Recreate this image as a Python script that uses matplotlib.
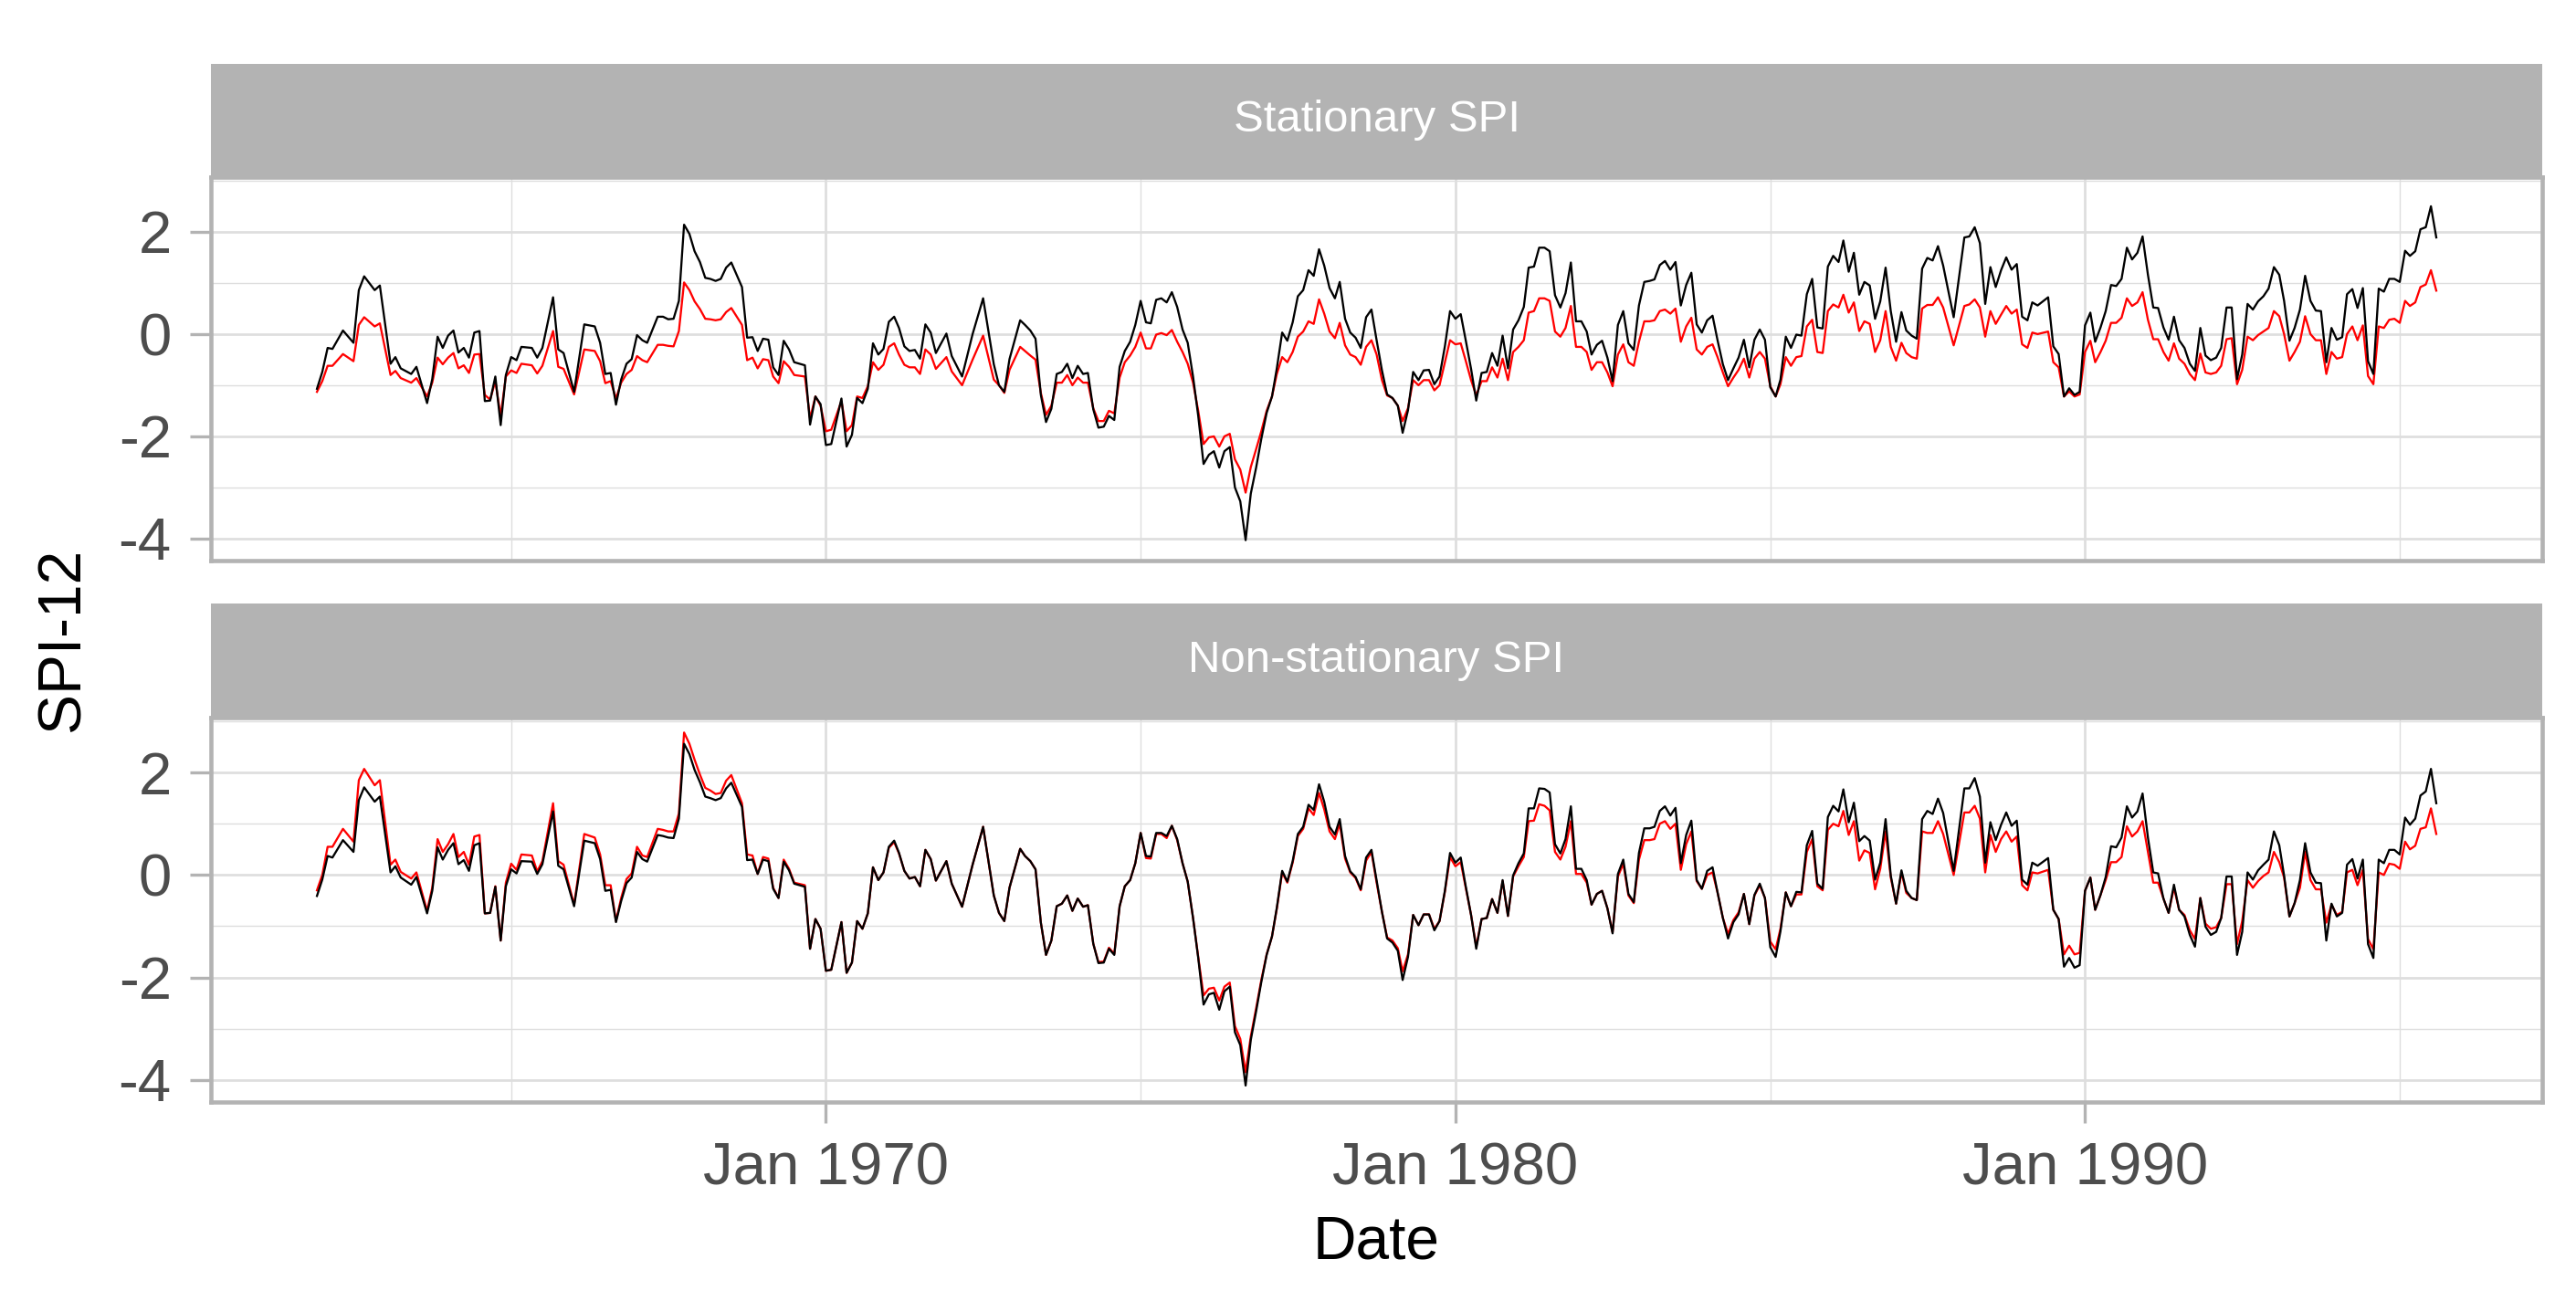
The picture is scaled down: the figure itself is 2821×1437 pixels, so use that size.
import matplotlib
matplotlib.use("Agg")
import matplotlib.pyplot as plt
import matplotlib.dates as mdates
from matplotlib.ticker import MultipleLocator
import pandas as pd

plt.rcParams['font.family'] = ['Liberation Sans', 'DejaVu Sans']
plt.rcParams['axes.unicode_minus'] = False

# months (vertices of the lines)
sample_months = {
    1961: [12],
    1962: [1, 2, 3, 5, 7, 8, 9, 11, 12],
    1963: [2, 3, 4, 6, 7, 9, 10, 11, 12],
    1964: [1, 2, 3, 4, 5, 6, 7, 8, 9, 10, 11, 12],
    1965: [1, 2, 3, 5, 6, 7, 9, 10, 11],
    1966: [1, 3, 5, 6, 7, 8, 9, 10, 11, 12],
    1967: [1, 2, 3, 5, 6, 7, 8, 9, 10, 11, 12],
    1968: [1, 2, 3, 4, 5, 6, 7, 9, 10, 11, 12],
    1969: [1, 2, 3, 4, 5, 6, 7, 9, 10, 11, 12],
    1970: [1, 2, 4, 5, 6, 7, 8, 9, 10, 11, 12],
    1971: [1, 2, 3, 4, 5, 6, 7, 8, 9, 10, 12],
    1972: [1, 3, 5, 7, 9, 10, 11, 12],
    1973: [2, 3, 4, 5, 6, 7, 8, 9, 10, 11, 12],
    1974: list(range(1, 13)),
    1975: list(range(1, 13)),
    1976: list(range(1, 13)),
    1977: list(range(1, 13)),
    1978: list(range(1, 13)),
    1979: list(range(1, 13)),
    1980: list(range(1, 13)),
    1981: list(range(1, 13)),
    1982: list(range(1, 13)),
    1983: list(range(1, 13)),
    1984: list(range(1, 13)),
    1985: list(range(1, 13)),
    1986: list(range(1, 13)),
    1987: [1, 2, 3, 4, 5, 6, 7, 8, 9, 10, 12],
    1988: [2, 3, 4, 5, 6, 7, 8, 9, 10, 11, 12],
    1989: [1, 2, 3, 4, 6, 7, 8, 9, 10, 11, 12],
    1990: list(range(1, 13)),
    1991: list(range(1, 13)),
    1992: list(range(1, 13)),
    1993: list(range(1, 13)),
    1994: list(range(1, 13)),
    1995: [1, 2, 3, 4, 5, 6, 7, 8],
}
dates = pd.to_datetime([f"{y}-{m:02d}-01" for y, ms in sample_months.items() for m in ms])

# Stationary SPI panel
stat_black = [
    -1.07,
    -0.74, -0.27, -0.29, 0.07, -0.17, 0.86, 1.13, 0.86, 0.95,
    -0.58, -0.45, -0.67, -0.78, -0.64, -1.35, -0.88, -0.05, -0.27,
    -0.03, 0.07, -0.36, -0.27, -0.46, 0.03, 0.06, -1.31, -1.30, -0.83, -1.78, -0.80,
    -0.45, -0.51, -0.25, -0.27, -0.46, -0.27, 0.72, -0.30, -0.37,
    -1.13, 0.19, 0.15, -0.17, -0.78, -0.76, -1.38, -0.89, -0.58, -0.49,
    -0.02, -0.12, -0.17, 0.34, 0.34, 0.29, 0.30, 0.65, 2.14, 1.96, 1.62,
    1.41, 1.10, 1.08, 1.04, 1.08, 1.30, 1.40, 0.92, -0.07, -0.06, -0.33,
    -0.09, -0.11, -0.65, -0.80, -0.13, -0.30, -0.55, -0.61, -1.77, -1.22, -1.37,
    -2.17, -2.15, -1.26, -2.20, -1.97, -1.25, -1.35, -1.07, -0.18, -0.40, -0.29,
    0.24, 0.34, 0.12, -0.24, -0.33, -0.31, -0.48, 0.19, 0.03, -0.37, 0.01,
    -0.43, -0.83, 0.00, 0.70, -0.59, -1.00, -1.13, -0.49,
    0.27, 0.18, 0.07, -0.09, -1.19, -1.72, -1.46, -0.78, -0.74, -0.58, -0.86,
    -0.62, -0.78, -0.76, -1.47, -1.83, -1.81, -1.60, -1.68, -0.64, -0.33, -0.15, 0.18,
    0.65, 0.23, 0.21, 0.67, 0.70, 0.62, 0.82, 0.53, 0.09, -0.17, -0.83, -1.60,
    -2.54, -2.36, -2.29, -2.61, -2.29, -2.21, -3.00, -3.27, -4.03, -3.12, -2.61, -2.05,
    -1.54, -1.22, -0.67, 0.03, -0.13, 0.23, 0.74, 0.86, 1.25, 1.14, 1.66, 1.34,
    0.90, 0.70, 1.02, 0.30, 0.03, -0.07, -0.27, 0.33, 0.48, -0.12, -0.71, -1.18,
    -1.25, -1.40, -1.93, -1.49, -0.74, -0.90, -0.71, -0.70, -0.98, -0.83, -0.24, 0.45,
    0.30, 0.39, -0.12, -0.68, -1.30, -0.76, -0.74, -0.37, -0.62, -0.03, -0.67, 0.09,
    0.27, 0.53, 1.30, 1.32, 1.69, 1.69, 1.62, 0.76, 0.52, 0.80, 1.40, 0.25,
    0.25, 0.05, -0.40, -0.21, -0.13, -0.46, -0.92, 0.18, 0.45, -0.18, -0.31, 0.56,
    1.02, 1.04, 1.07, 1.35, 1.43, 1.26, 1.41, 0.56, 0.96, 1.20, 0.19, 0.03,
    0.27, 0.36, -0.12, -0.59, -0.90, -0.67, -0.46, -0.11, -0.65, -0.11, 0.09, -0.11,
    -1.04, -1.22, -0.89, -0.05, -0.27, -0.01, -0.03, 0.78, 1.08, 0.13, 0.11, 1.32,
    1.53, 1.41, 1.83, 1.22, 1.59, 0.77, 1.02, 0.95, 0.30, 0.64, 1.30, 0.45,
    -0.15, 0.43, 0.07, -0.03, -0.09, 1.28, 1.49, 1.44, 1.72, 1.34, 0.33,
    1.89, 1.91, 2.09, 1.78, 0.59, 1.31, 0.92, 1.25, 1.50, 1.26, 1.37,
    0.34, 0.27, 0.62, 0.56, 0.72, -0.24, -0.39, -1.22, -1.06, -1.19, -1.13,
    0.17, 0.42, -0.15, 0.13, 0.45, 0.96, 0.94, 1.08, 1.69, 1.46, 1.59, 1.91,
    1.16, 0.52, 0.51, 0.13, -0.11, 0.34, -0.12, -0.27, -0.58, -0.72, 0.12, -0.42,
    -0.51, -0.46, -0.27, 0.52, 0.52, -0.88, -0.40, 0.59, 0.48, 0.64, 0.74, 0.89,
    1.31, 1.16, 0.65, -0.13, 0.12, 0.48, 1.14, 0.65, 0.46, 0.45, -0.55, 0.12,
    -0.11, -0.06, 0.78, 0.88, 0.51, 0.90, -0.53, -0.78, 0.89, 0.83, 1.08, 1.08,
    1.02, 1.63, 1.53, 1.62, 2.05, 2.09, 2.50, 1.89,
]

stat_red = [
    -1.13,
    -0.92, -0.62, -0.62, -0.39, -0.53, 0.18, 0.33, 0.15, 0.21,
    -0.80, -0.72, -0.86, -0.95, -0.86, -1.22, -0.95, -0.46, -0.59,
    -0.46, -0.37, -0.67, -0.61, -0.76, -0.40, -0.39, -1.19, -1.28, -0.92, -1.60, -0.83,
    -0.71, -0.76, -0.58, -0.61, -0.77, -0.62, 0.06, -0.64, -0.68,
    -1.18, -0.30, -0.33, -0.53, -0.96, -0.92, -1.26, -0.95, -0.78, -0.70,
    -0.43, -0.51, -0.55, -0.21, -0.21, -0.23, -0.24, 0.06, 1.01, 0.86, 0.64,
    0.49, 0.30, 0.29, 0.27, 0.29, 0.43, 0.51, 0.18, -0.51, -0.46, -0.67,
    -0.49, -0.51, -0.83, -0.96, -0.53, -0.64, -0.80, -0.83, -1.65, -1.22, -1.40,
    -1.90, -1.87, -1.31, -1.90, -1.78, -1.22, -1.25, -1.02, -0.55, -0.70, -0.60,
    -0.25, -0.18, -0.40, -0.60, -0.65, -0.65, -0.78, -0.30, -0.40, -0.68, -0.45,
    -0.73, -1.00, -0.50, -0.03, -0.89, -1.00, -1.15, -0.70,
    -0.25, -0.33, -0.42, -0.50, -1.15, -1.58, -1.40, -0.95, -0.95, -0.80, -1.00,
    -0.85, -0.95, -0.95, -1.45, -1.70, -1.70, -1.50, -1.55, -0.85, -0.55, -0.42, -0.25,
    0.03, -0.28, -0.28, -0.01, 0.02, -0.02, 0.08, -0.15, -0.35, -0.58, -0.95, -1.50,
    -2.15, -2.02, -2.00, -2.20, -2.00, -1.95, -2.45, -2.65, -3.10, -2.60, -2.25, -1.90,
    -1.50, -1.22, -0.78, -0.45, -0.55, -0.35, -0.05, 0.05, 0.25, 0.20, 0.68, 0.40,
    0.05, -0.08, 0.22, -0.22, -0.40, -0.45, -0.60, -0.25, -0.12, -0.40, -0.90, -1.20,
    -1.25, -1.40, -1.70, -1.45, -0.90, -1.00, -0.90, -0.90, -1.10, -1.00, -0.55, -0.12,
    -0.20, -0.18, -0.52, -0.90, -1.20, -0.92, -0.92, -0.65, -0.85, -0.48, -0.90, -0.35,
    -0.25, -0.12, 0.42, 0.45, 0.70, 0.70, 0.65, 0.05, -0.05, 0.12, 0.55, -0.25,
    -0.25, -0.35, -0.70, -0.55, -0.55, -0.75, -1.02, -0.40, -0.20, -0.55, -0.62, -0.15,
    0.25, 0.25, 0.27, 0.45, 0.48, 0.40, 0.50, -0.15, 0.15, 0.32, -0.30, -0.40,
    -0.25, -0.20, -0.45, -0.75, -1.02, -0.85, -0.70, -0.48, -0.85, -0.48, -0.35, -0.48,
    -1.02, -1.22, -0.98, -0.45, -0.62, -0.45, -0.43, 0.15, 0.28, -0.35, -0.37, 0.45,
    0.58, 0.52, 0.77, 0.42, 0.62, 0.06, 0.25, 0.20, -0.35, -0.12, 0.45, -0.25,
    -0.52, -0.17, -0.37, -0.45, -0.48, 0.50, 0.57, 0.57, 0.72, 0.52, -0.22,
    0.55, 0.58, 0.68, 0.52, -0.05, 0.45, 0.20, 0.38, 0.55, 0.40, 0.48,
    -0.20, -0.27, 0.03, 0.00, 0.05, -0.55, -0.65, -1.22, -1.12, -1.22, -1.18,
    -0.35, -0.13, -0.55, -0.35, -0.13, 0.22, 0.22, 0.32, 0.70, 0.55, 0.62, 0.82,
    0.28, -0.10, -0.10, -0.35, -0.52, -0.18, -0.48, -0.58, -0.78, -0.90, -0.38, -0.75,
    -0.78, -0.75, -0.62, -0.10, -0.08, -0.98, -0.70, -0.05, -0.12, -0.02, 0.05, 0.12,
    0.45, 0.35, 0.00, -0.52, -0.35, -0.15, 0.35, 0.00, -0.12, -0.12, -0.78, -0.35,
    -0.48, -0.45, 0.00, 0.15, -0.12, 0.17, -0.82, -0.98, 0.15, 0.12, 0.28, 0.30,
    0.22, 0.65, 0.55, 0.62, 0.92, 0.97, 1.25, 0.85,
]

# Non-stationary SPI panel
nonstat_black = [
    -0.41,
    -0.09, 0.37, 0.34, 0.68, 0.45, 1.46, 1.71, 1.43, 1.53,
    0.05, 0.17, -0.05, -0.19, -0.04, -0.75, -0.31, 0.54, 0.30,
    0.49, 0.62, 0.21, 0.29, 0.08, 0.58, 0.62, -0.75, -0.74, -0.23, -1.28, -0.22,
    0.11, 0.03, 0.27, 0.26, 0.02, 0.21, 1.24, 0.18, 0.11,
    -0.61, 0.67, 0.62, 0.31, -0.31, -0.29, -0.92, -0.51, -0.16, -0.05,
    0.45, 0.31, 0.26, 0.78, 0.76, 0.73, 0.72, 1.10, 2.56, 2.36, 2.05,
    1.81, 1.53, 1.50, 1.46, 1.50, 1.69, 1.80, 1.33, 0.29, 0.30, 0.02,
    0.30, 0.27, -0.27, -0.45, 0.26, 0.09, -0.17, -0.23, -1.44, -0.86, -1.05,
    -1.87, -1.85, -0.92, -1.91, -1.71, -0.90, -1.05, -0.75, 0.15, -0.10, 0.05,
    0.55, 0.67, 0.43, 0.08, -0.07, -0.04, -0.22, 0.49, 0.31, -0.11, 0.27,
    -0.17, -0.62, 0.20, 0.94, -0.40, -0.74, -0.90, -0.25,
    0.51, 0.37, 0.27, 0.11, -0.93, -1.56, -1.28, -0.61, -0.56, -0.40, -0.70,
    -0.46, -0.62, -0.59, -1.34, -1.72, -1.71, -1.44, -1.56, -0.61, -0.22, -0.10, 0.23,
    0.82, 0.37, 0.36, 0.82, 0.82, 0.76, 0.96, 0.70, 0.23, -0.13, -0.84, -1.62,
    -2.53, -2.33, -2.30, -2.63, -2.27, -2.18, -3.07, -3.32, -4.11, -3.22, -2.66, -2.09,
    -1.56, -1.20, -0.64, 0.08, -0.13, 0.27, 0.80, 0.94, 1.37, 1.27, 1.77, 1.43,
    0.94, 0.79, 1.09, 0.37, 0.07, -0.04, -0.28, 0.34, 0.49, -0.11, -0.72, -1.24,
    -1.32, -1.48, -2.05, -1.60, -0.78, -0.98, -0.77, -0.77, -1.08, -0.90, -0.31, 0.43,
    0.24, 0.34, -0.22, -0.78, -1.44, -0.86, -0.84, -0.47, -0.74, -0.10, -0.80, -0.01,
    0.23, 0.42, 1.30, 1.30, 1.69, 1.68, 1.61, 0.60, 0.42, 0.70, 1.34, 0.12,
    0.12, -0.10, -0.58, -0.37, -0.31, -0.65, -1.14, 0.02, 0.30, -0.37, -0.53, 0.43,
    0.91, 0.91, 0.94, 1.25, 1.34, 1.16, 1.31, 0.23, 0.78, 1.06, -0.10, -0.27,
    0.08, 0.15, -0.34, -0.84, -1.24, -0.92, -0.77, -0.37, -0.96, -0.39, -0.17, -0.45,
    -1.41, -1.60, -1.10, -0.34, -0.61, -0.33, -0.34, 0.58, 0.86, -0.17, -0.27, 1.13,
    1.35, 1.24, 1.67, 1.03, 1.41, 0.66, 0.76, 0.67, -0.09, 0.24, 1.09, -0.01,
    -0.56, 0.09, -0.31, -0.45, -0.49, 1.09, 1.25, 1.19, 1.49, 1.21, 0.08,
    1.69, 1.69, 1.89, 1.53, 0.24, 1.03, 0.68, 0.98, 1.22, 0.96, 1.06,
    -0.09, -0.19, 0.24, 0.18, 0.33, -0.68, -0.86, -1.79, -1.62, -1.81, -1.76,
    -0.31, -0.05, -0.68, -0.39, -0.04, 0.56, 0.54, 0.73, 1.34, 1.12, 1.24, 1.59,
    0.73, 0.05, 0.03, -0.46, -0.74, -0.19, -0.68, -0.81, -1.17, -1.40, -0.45, -1.01,
    -1.17, -1.11, -0.84, -0.03, -0.03, -1.56, -1.11, 0.05, -0.09, 0.09, 0.20, 0.30,
    0.85, 0.58, -0.01, -0.81, -0.55, -0.10, 0.62, 0.05, -0.15, -0.16, -1.28, -0.56,
    -0.81, -0.74, 0.20, 0.31, -0.07, 0.30, -1.35, -1.62, 0.30, 0.23, 0.49, 0.49,
    0.40, 1.12, 0.98, 1.10, 1.55, 1.63, 2.07, 1.40,
]

nonstat_red = [
    -0.30,
    0.00, 0.55, 0.55, 0.90, 0.65, 1.85, 2.07, 1.75, 1.85,
    0.20, 0.30, 0.06, -0.07, 0.05, -0.70, -0.25, 0.70, 0.45,
    0.60, 0.80, 0.35, 0.45, 0.20, 0.75, 0.78, -0.75, -0.74, -0.22, -1.28, -0.15,
    0.22, 0.10, 0.40, 0.38, 0.07, 0.27, 1.40, 0.27, 0.20,
    -0.58, 0.80, 0.73, 0.40, -0.20, -0.20, -0.90, -0.45, -0.08, 0.03,
    0.55, 0.38, 0.35, 0.90, 0.88, 0.85, 0.85, 1.20, 2.78, 2.56, 2.25,
    1.96, 1.70, 1.65, 1.58, 1.60, 1.84, 1.95, 1.40, 0.40, 0.38, 0.02,
    0.35, 0.32, -0.25, -0.45, 0.30, 0.12, -0.15, -0.20, -1.44, -0.86, -1.05,
    -1.87, -1.85, -0.92, -1.91, -1.71, -0.90, -1.05, -0.75, 0.15, -0.10, 0.05,
    0.53, 0.64, 0.42, 0.08, -0.07, -0.04, -0.22, 0.49, 0.31, -0.11, 0.27,
    -0.17, -0.62, 0.20, 0.94, -0.40, -0.74, -0.90, -0.25,
    0.51, 0.37, 0.27, 0.11, -0.93, -1.56, -1.28, -0.61, -0.56, -0.40, -0.70,
    -0.46, -0.62, -0.59, -1.34, -1.70, -1.69, -1.42, -1.54, -0.61, -0.22, -0.10, 0.23,
    0.82, 0.33, 0.32, 0.80, 0.80, 0.72, 0.96, 0.68, 0.23, -0.13, -0.84, -1.60,
    -2.35, -2.22, -2.20, -2.45, -2.18, -2.10, -2.95, -3.20, -3.85, -3.15, -2.60, -2.05,
    -1.55, -1.20, -0.66, 0.05, -0.15, 0.24, 0.76, 0.90, 1.30, 1.17, 1.60, 1.28,
    0.85, 0.70, 1.00, 0.32, 0.05, -0.06, -0.30, 0.28, 0.45, -0.15, -0.72, -1.22,
    -1.28, -1.43, -1.88, -1.55, -0.78, -0.98, -0.77, -0.77, -1.05, -0.90, -0.33, 0.35,
    0.17, 0.25, -0.25, -0.78, -1.40, -0.86, -0.84, -0.47, -0.74, -0.12, -0.80, -0.03,
    0.17, 0.35, 1.05, 1.06, 1.38, 1.35, 1.26, 0.45, 0.30, 0.55, 1.05, 0.02,
    0.02, -0.15, -0.58, -0.37, -0.31, -0.65, -1.12, -0.03, 0.22, -0.40, -0.55, 0.30,
    0.68, 0.68, 0.70, 1.00, 1.05, 0.90, 1.00, 0.10, 0.60, 0.85, -0.12, -0.27,
    0.00, 0.05, -0.34, -0.84, -1.15, -0.88, -0.73, -0.37, -0.96, -0.40, -0.20, -0.45,
    -1.30, -1.45, -1.05, -0.34, -0.61, -0.38, -0.38, 0.45, 0.70, -0.22, -0.30, 0.88,
    1.00, 0.95, 1.25, 0.78, 1.05, 0.28, 0.48, 0.43, -0.28, 0.12, 0.85, -0.05,
    -0.56, 0.05, -0.35, -0.45, -0.49, 0.85, 0.82, 0.82, 1.05, 0.80, 0.00,
    1.22, 1.22, 1.35, 1.10, 0.05, 0.78, 0.45, 0.70, 0.85, 0.65, 0.75,
    -0.20, -0.30, 0.05, 0.03, 0.10, -0.68, -0.86, -1.55, -1.38, -1.55, -1.52,
    -0.31, -0.05, -0.68, -0.39, -0.10, 0.25, 0.25, 0.35, 0.95, 0.75, 0.85, 1.05,
    0.45, -0.15, -0.15, -0.46, -0.74, -0.25, -0.68, -0.78, -1.08, -1.25, -0.45, -0.95,
    -1.05, -1.02, -0.84, -0.18, -0.18, -1.35, -0.90, -0.10, -0.25, -0.12, -0.02, 0.05,
    0.45, 0.25, -0.05, -0.81, -0.55, -0.25, 0.45, -0.10, -0.28, -0.28, -0.93, -0.58,
    -0.78, -0.72, 0.05, 0.10, -0.20, 0.10, -1.25, -1.45, 0.05, 0.00, 0.22, 0.20,
    0.12, 0.65, 0.50, 0.57, 0.90, 0.93, 1.30, 0.80,
]

panel_titles = ["Stationary SPI", "Non-stationary SPI"]

GRID = "#DEDEDE"
BORDER = "#B3B3B3"
TEXT = "#4D4D4D"

fig = plt.figure(figsize=(2821 / 300, 1437 / 300), dpi=300)

left, width = 0.0819, 0.9050
# (panel bottom, panel height, strip bottom, strip height)
boxes = [(0.5727, 0.2923, 0.8650, 0.0863),
         (0.1601, 0.2929, 0.4530, 0.0870)]
series = [(stat_black, stat_red), (nonstat_black, nonstat_red)]

for i, (box, (blk, red), title) in enumerate(zip(boxes, series, panel_titles)):
    pb, ph, sb, sh = box
    ax = fig.add_axes([left, pb, width, ph])
    ax.plot(dates, red, color="#FF0000", lw=0.55)
    ax.plot(dates, blk, color="#000000", lw=0.55)
    ax.margins(x=0.05)
    ax.set_ylim(-4.43, 3.07)

    ax.xaxis.set_major_locator(mdates.YearLocator(10))
    ax.xaxis.set_minor_locator(mdates.YearLocator(5))
    ax.xaxis.set_major_formatter(mdates.DateFormatter("%b %Y"))
    ax.yaxis.set_major_locator(MultipleLocator(2))
    ax.yaxis.set_minor_locator(MultipleLocator(1))

    ax.set_axisbelow(True)
    ax.grid(which="major", color=GRID, lw=0.65)
    ax.grid(which="minor", color=GRID, lw=0.33)
    for s in ax.spines.values():
        s.set_color(BORDER)
        s.set_linewidth(1.1)

    ax.tick_params(which="major", length=5.5, width=0.8, color=BORDER,
                   labelcolor=TEXT, labelsize=15.7, pad=4.9)
    ax.tick_params(which="minor", length=0)
    if i == 0:
        ax.tick_params(axis="x", which="both", length=0, labelbottom=False)

    # facet strip
    st = fig.add_axes([left, sb, width, sh])
    st.set_facecolor(BORDER)
    st.set_xticks([])
    st.set_yticks([])
    for s in st.spines.values():
        s.set_visible(False)
    st.text(0.5, 0.5, title, color="white", fontsize=11.8,
            ha="center", va="center", transform=st.transAxes)

fig.text(0.5344, 0.0522, "Date", fontsize=15.8, color="black",
         ha="center", va="center")
fig.text(0.0248, 0.5125, "SPI-12", fontsize=15.8, color="black",
         ha="center", va="center", rotation=90)

fig.savefig("out.png", dpi=300)
